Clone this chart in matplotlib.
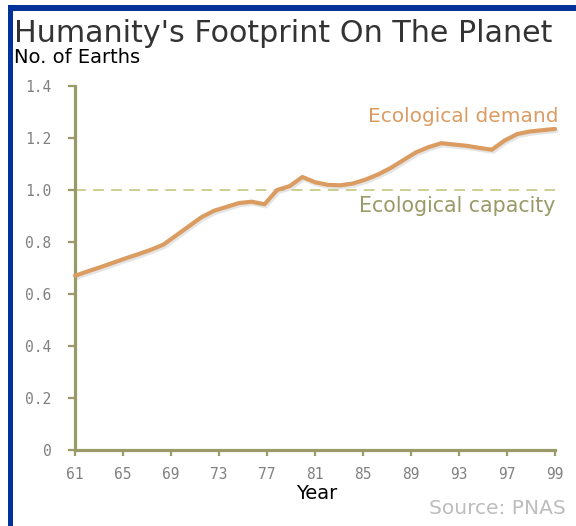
import numpy as np
import matplotlib
matplotlib.use('Agg')
import matplotlib.pyplot as plt
import matplotlib.patheffects as pe
from matplotlib.patches import Rectangle

# Ecological footprint, number of Earths needed per year (1961-1999)
years = list(range(61, 100))
demand = [0.67, 0.687, 0.703, 0.72, 0.737, 0.753, 0.77, 0.79, 0.825, 0.86,
          0.895, 0.92, 0.935, 0.95, 0.955, 0.945, 1.0, 1.015, 1.05, 1.03,
          1.02, 1.018, 1.025, 1.04, 1.06, 1.085, 1.115, 1.145, 1.165, 1.18,
          1.175, 1.17, 1.162, 1.155, 1.19, 1.215, 1.225, 1.23, 1.235]
capacity = 1.0

x_labels = ['61', '65', '69', '73', '77', '81', '85', '89', '93', '97', '99']
y_ticks = [0, 0.2, 0.4, 0.6, 0.8, 1.0, 1.2, 1.4]
y_labels = ['0', '0.2', '0.4', '0.6', '0.8', '1.0', '1.2', '1.4']

olive = '#9a9a68'
orange = '#db9c62'
W, H = 576, 526

fig = plt.figure(figsize=(5.76, 5.26), dpi=100)
fig.patch.set_facecolor('white')

# blue frame along the top and left
fig.patches.append(Rectangle((8/W, 1 - 11/H), 1, 6/H, transform=fig.transFigure,
                             facecolor='#003399', edgecolor='none', zorder=-1))
fig.patches.append(Rectangle((8/W, 0), 5/W, 1 - 5/H, transform=fig.transFigure,
                             facecolor='#003399', edgecolor='none', zorder=-1))

ax = fig.add_axes([75/W, 1 - 450/H, 480/W, 364/H])
ax.set_facecolor('none')
ax.set_xlim(61, 99)
ax.set_ylim(0, 1.4)

for s in ['top', 'right']:
    ax.spines[s].set_visible(False)
for s in ['left', 'bottom']:
    ax.spines[s].set_color(olive)
    ax.spines[s].set_linewidth(2.3)

ax.set_xticks(np.linspace(61, 99, len(x_labels)))
ax.set_xticklabels(x_labels)
ax.set_yticks(y_ticks)
ax.set_yticklabels(y_labels)
ax.tick_params(axis='both', colors=olive, labelcolor='#808080', width=1.6)
ax.tick_params(axis='y', length=5, pad=12)
ax.tick_params(axis='x', length=4, pad=8)
for lab in ax.get_xticklabels() + ax.get_yticklabels():
    lab.set_fontfamily('DejaVu Sans Mono')
    lab.set_fontsize(10.5)

# capacity line
ax.axhline(capacity, color='#c8cc8a', lw=1.3, dashes=(6, 4), zorder=2)

# demand line with a soft shadow
ax.plot(years, demand, color=orange, lw=3.0, solid_capstyle='round', clip_on=False, zorder=3,
        path_effects=[pe.SimpleLineShadow(offset=(1, -1.5), shadow_color='#999999', alpha=0.25),
                      pe.Normal()])

ax.text(99.3, 1.26, 'Ecological demand', color=orange, fontsize=14.5,
        ha='right', va='baseline')
ax.text(99.0, 0.914, 'Ecological capacity', color=olive, fontsize=14.8,
        ha='right', va='baseline')

fig.text(14/W, 1 - 42/H, "Humanity's Footprint On The Planet", fontsize=21.7,
         color='#333333', ha='left', va='baseline')
fig.text(14/W, 1 - 63/H, 'No. of Earths', fontsize=14, color='black',
         ha='left', va='baseline')
fig.text(317/W, 1 - 499/H, 'Year', fontsize=14, color='black',
         ha='center', va='baseline')
fig.text(566/W, 1 - 514/H, 'Source: PNAS', fontsize=14.5, color='#bdbdbd',
         ha='right', va='baseline')

fig.savefig('out.png', dpi=100)
